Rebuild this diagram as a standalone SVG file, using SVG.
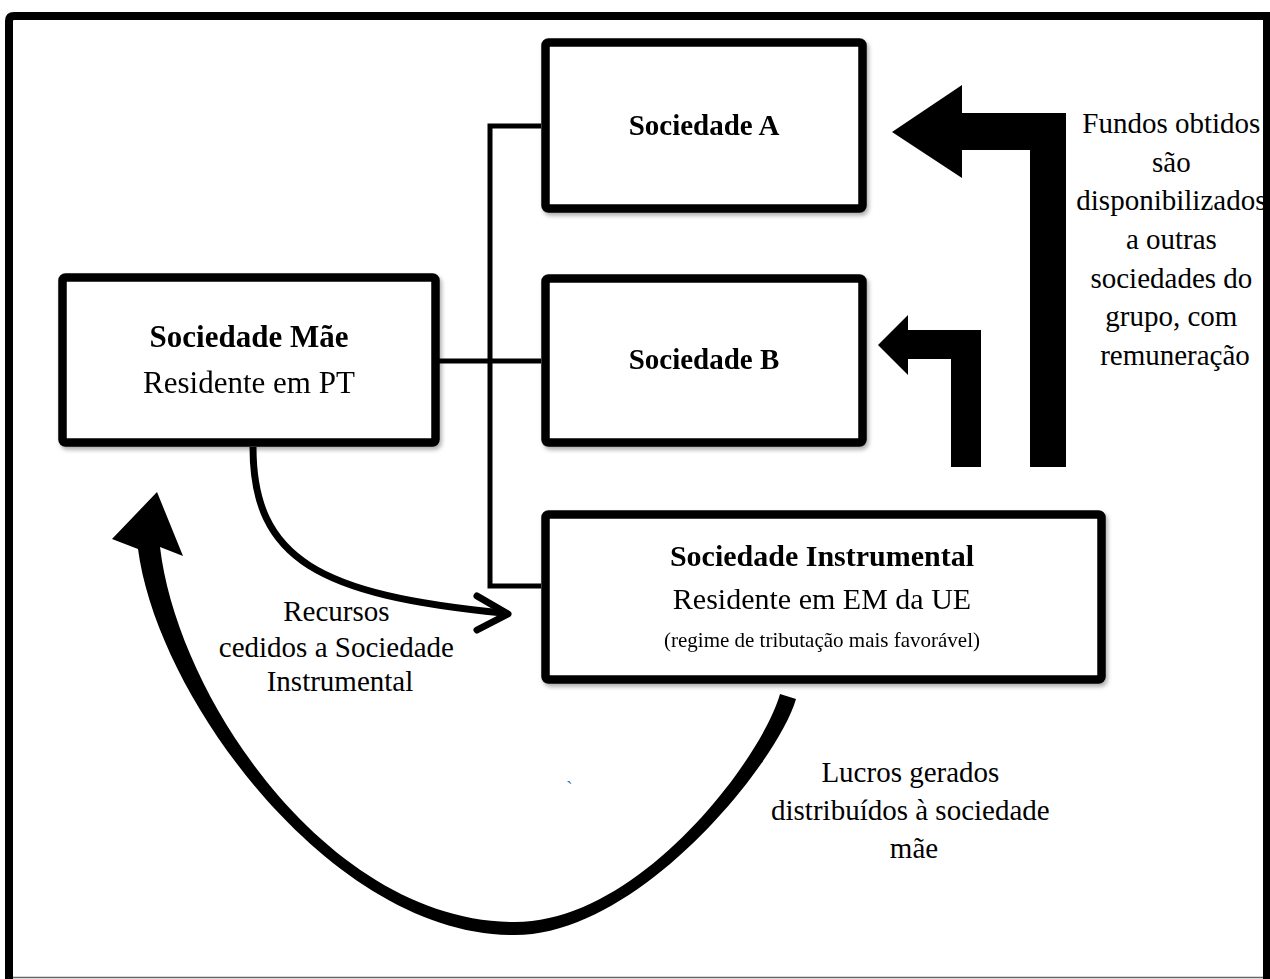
<svg xmlns="http://www.w3.org/2000/svg" width="1270" height="979" viewBox="0 0 1270 979">
  <defs>
    <filter id="shadow" x="-5%" y="-5%" width="112%" height="125%">
      <feDropShadow dx="2" dy="3" stdDeviation="2.2" flood-color="#000" flood-opacity="0.32"/>
    </filter>
  </defs>
  <style>
    .box{fill:#fff;stroke:#000;stroke-width:8.5}
    .conn{fill:none;stroke:#000;stroke-width:5}
    .flow{fill:#000;stroke:none}
    .t{font-family:"Liberation Serif","Times New Roman",serif;fill:#000;text-anchor:middle}
    .b{font-weight:bold}
  </style>
  <rect width="1270" height="979" fill="#fff"/>

  <!-- ownership connectors -->
  <g id="connectors">
    <path class="conn" d="M541,126 H490 V586 H541"/>
    <path class="conn" d="M438,361 H541"/>
  </g>

  <!-- companies -->
  <g id="node-sociedade-a" filter="url(#shadow)">
    <rect class="box" x="545.5" y="42.5" width="317" height="166" rx="3"/>
    <text class="t b" x="704" y="135" font-size="29">Sociedade A</text>
  </g>
  <g id="node-sociedade-b" filter="url(#shadow)">
    <rect class="box" x="545.5" y="278.5" width="317" height="164" rx="3"/>
    <text class="t b" x="704" y="369" font-size="29">Sociedade B</text>
  </g>
  <g id="node-sociedade-mae" filter="url(#shadow)">
    <rect class="box" x="62.5" y="277.5" width="373" height="165" rx="3"/>
    <text class="t b" x="249" y="347" font-size="31">Sociedade Mãe</text>
    <text class="t" x="249" y="393" font-size="31">Residente em PT</text>
  </g>
  <g id="node-sociedade-instrumental" filter="url(#shadow)">
    <rect class="box" x="545.5" y="514.5" width="556" height="165" rx="3"/>
    <text class="t b" x="822" y="566" font-size="30">Sociedade Instrumental</text>
    <text class="t" x="822" y="609" font-size="30">Residente em EM da UE</text>
    <text class="t" x="822" y="647" font-size="21">(regime de tributação mais favorável)</text>
  </g>

  <!-- money flows -->
  <g id="flows">
    <!-- funds lent on to Sociedade A -->
    <polygon class="flow" points="892,132 962,85 962,113 1066,113 1066,467 1030,467 1030,150 962,150 962,178"/>
    <!-- funds lent on to Sociedade B -->
    <polygon class="flow" points="878,345 908,315 908,330 981,330 981,467 951,467 951,359 908,359 908,375"/>
    <!-- resources ceded to the instrumental company -->
    <path d="M253,447 C253,560 320,595 503,613" fill="none" stroke="#000" stroke-width="7"/>
    <polyline points="477,596 508,614 477,630" fill="none" stroke="#000" stroke-width="7" stroke-linecap="round" stroke-linejoin="round"/>
    <!-- profits distributed back to the parent -->
    <path class="flow" d="M796,699 C778,762 640,935 515,935 C335,937 158,701 138,549 L112,539 L157,492 L183,556 L160,547 C178,699 330,922 515,922 C640,922 762,758 780,694 Z"/>
  </g>

  <!-- labels -->
  <g id="labels">
    <text class="t" font-size="29">
      <tspan x="1175" y="133">Fundos obtidos</tspan>
      <tspan x="1175" y="172">são</tspan>
      <tspan x="1175" y="210">disponibilizados</tspan>
      <tspan x="1175" y="249">a outras</tspan>
      <tspan x="1175" y="288">sociedades do</tspan>
      <tspan x="1175" y="326">grupo, com</tspan>
      <tspan x="1175" y="365">remuneração</tspan>
    </text>
    <text class="t" font-size="29">
      <tspan x="340" y="621">Recursos</tspan>
      <tspan x="340" y="657">cedidos a Sociedade</tspan>
      <tspan x="340" y="691">Instrumental</tspan>
    </text>
    <text class="t" font-size="29">
      <tspan x="914" y="782">Lucros gerados</tspan>
      <tspan x="914" y="820">distribuídos à sociedade</tspan>
      <tspan x="914" y="858">mãe</tspan>
    </text>
    <text x="566" y="796" font-family="Liberation Serif, serif" font-size="20" fill="#3a6fc4">`</text>
  </g>

  <!-- page frame -->
  <g id="frame">
    <path d="M9,979 V21 Q9,16 14,16 H1267 V979" fill="none" stroke="#000" stroke-width="8"/>
    <line x1="13" y1="977.5" x2="1263" y2="977.5" stroke="#666" stroke-width="1.5"/>
  </g>
</svg>
